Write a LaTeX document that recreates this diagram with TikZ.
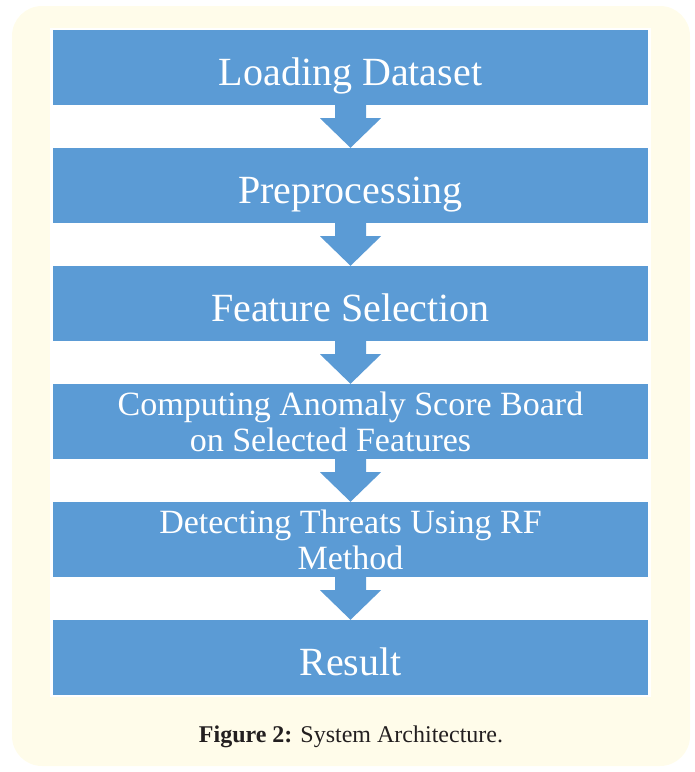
\documentclass[tikz,border=0pt]{standalone}
\usepackage{fontspec}
\setmainfont{Liberation Serif}
\usetikzlibrary{calc}
\definecolor{boxblue}{HTML}{5B9BD5}
\definecolor{pagecream}{HTML}{FFFCEA}
\definecolor{capgray}{HTML}{231F20}
\newcommand{\blockarrow}[2]{%
  \fill[boxblue] ($(#1.south)+(-15.5,0)$) -- ++(0,13) -- ++(-15,0) -- (#2.north)
    -- ($(#1.south)+(30.5,13)$) -- ++(-15,0) -- ++(0,-13) -- cycle;}
\begin{document}
\begin{tikzpicture}[x=1pt,y=-1pt,
  n/.style={rectangle,fill=boxblue,text=white,inner sep=0pt,minimum width=595pt,minimum height=75pt,align=center},
  big/.style={font=\fontsize{40}{44}\selectfont,text height=35pt,text depth=0pt},
  small/.style={font=\fontsize{34}{36}\selectfont}]
  \useasboundingbox (0,0) rectangle (695,772);
  \fill[pagecream,rounded corners=30pt] (12,6) rectangle (690,766);
  \fill[white] (50,28) rectangle (651,697);
  \node[n,big]   (load)  at (350.5,67.5)  {Loading Dataset};
  \node[n,big]   (prep)  at (350.5,185.5) {Preprocessing};
  \node[n,big]   (feat)  at (350.5,303.5) {Feature Selection};
  \node[n,small] (score) at (350.5,421.5) {Computing Anomaly Score Board\\ on Selected Features\hspace*{40pt}};
  \node[n,small] (rf)    at (350.5,539.5) {Detecting Threats Using RF\\ Method};
  \node[n,big]   (res)   at (350.5,657.5) {Result};
  \blockarrow{load}{prep}
  \blockarrow{prep}{feat}
  \blockarrow{feat}{score}
  \blockarrow{score}{rf}
  \blockarrow{rf}{res}
  \node[font=\fontsize{24}{28}\selectfont,text=capgray,anchor=base] (cap) at (351,742) {\textbf{Figure 2:} System Architecture.};
\end{tikzpicture}
\end{document}
